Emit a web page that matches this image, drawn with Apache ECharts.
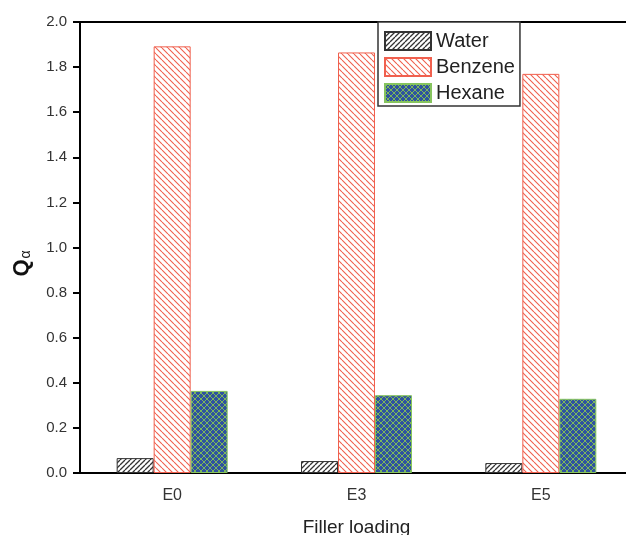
<!DOCTYPE html>
<html>
<head>
<meta charset="utf-8">
<script src="https://cdn.jsdelivr.net/npm/echarts@6/dist/echarts.min.js"></script>
<style>
  html, body { margin: 0; padding: 0; background: #fff; }
  #chart { width: 626px; height: 535px; }
</style>
</head>
<body>
<div id="chart"></div>
<script>
// data
const categories = ['E0', 'E3', 'E5']
const water = [0.066, 0.053, 0.044]
const benzene = [1.892, 1.865, 1.77]
const hexane = [0.364, 0.345, 0.329]

// hatch tiles
const makeHatch = (size, bg, stroke, width, dirs) => {
  const c = document.createElement('canvas')
  c.width = size
  c.height = size
  const ctx = c.getContext('2d')
  if (bg) {
    ctx.fillStyle = bg
    ctx.fillRect(0, 0, size, size)
  }
  ctx.strokeStyle = stroke
  ctx.lineWidth = width
  dirs.forEach((d) => {
    ctx.beginPath()
    for (let k = -1; k <= 1; k++) {
      if (d === '/') {
        ctx.moveTo(k * size, size)
        ctx.lineTo(k * size + size, 0)
      } else {
        ctx.moveTo(k * size, 0)
        ctx.lineTo(k * size + size, size)
      }
    }
    ctx.stroke()
  })
  return { image: c, repeat: 'repeat' }
}

const waterFill = makeHatch(5, '#ffffff', '#333333', 1.3, ['/'])
const benzeneFill = makeHatch(6, '#ffffff', '#f0604e', 1.1, ['\\'])
const hexaneFill = makeHatch(6, '#2f52a0', '#7cb85a', 1, ['/', '\\'])

const font = 'Liberation Sans'
const chart = echarts.init(document.getElementById('chart'))

chart.setOption({
  animation: false,
  grid: {
    left: 80,
    top: 22,
    width: 553,
    height: 451,
    outerBoundsMode: 'none',
    show: true,
    borderColor: '#000',
    borderWidth: 2,
  },
  legend: {
    left: 378,
    top: 22,
    orient: 'vertical',
    icon: 'rect',
    itemWidth: 46,
    itemHeight: 18,
    itemGap: 6,
    padding: [9, 5, 3, 6],
    borderColor: '#333',
    borderWidth: 1.5,
    backgroundColor: '#fff',
    textStyle: { fontSize: 20, lineHeight: 18, color: '#222', fontFamily: font },
    data: ['Water', 'Benzene', 'Hexane'],
  },
  xAxis: {
    type: 'category',
    data: categories,
    name: 'Filler loading',
    nameLocation: 'middle',
    nameGap: 45,
    nameTextStyle: { fontSize: 19, color: '#222', fontFamily: font, verticalAlign: 'top' },
    axisLine: { lineStyle: { color: '#000', width: 2 } },
    axisTick: { alignWithLabel: true, length: 6, lineStyle: { width: 2, color: '#000' } },
    axisLabel: { fontSize: 16, color: '#333', margin: 15, fontFamily: font },
  },
  yAxis: {
    type: 'value',
    min: 0,
    max: 2,
    interval: 0.2,
    name: '{q|Q}{a|α}',
    nameLocation: 'middle',
    nameGap: 47,
    nameRotate: 90,
    nameTextStyle: {
      padding: [0, 32, 0, 0],
      rich: {
        q: { fontSize: 22, fontWeight: 'bold', color: '#111', fontFamily: font },
        a: { fontSize: 14, color: '#111', fontFamily: font, padding: [8, 0, 0, 1] },
      },
    },
    splitLine: { show: false },
    axisLine: { show: true, lineStyle: { color: '#000', width: 2 } },
    axisTick: { show: true, length: 7, lineStyle: { width: 2, color: '#000' } },
    axisLabel: {
      fontSize: 15,
      color: '#333',
      margin: 13,
      fontFamily: font,
      formatter: (v) => v.toFixed(1),
    },
  },
  series: [
    {
      name: 'Water',
      type: 'bar',
      data: water,
      barWidth: 37,
      barGap: '0%',
      itemStyle: { color: waterFill, borderColor: '#333', borderWidth: 1 },
    },
    {
      name: 'Benzene',
      type: 'bar',
      data: benzene,
      barWidth: 37,
      barGap: '0%',
      itemStyle: { color: benzeneFill, borderColor: '#f0604e', borderWidth: 1 },
    },
    {
      name: 'Hexane',
      type: 'bar',
      data: hexane,
      barWidth: 37,
      barGap: '0%',
      itemStyle: { color: hexaneFill, borderColor: '#86c45e', borderWidth: 1 },
    },
  ],
})
</script>
</body>
</html>
